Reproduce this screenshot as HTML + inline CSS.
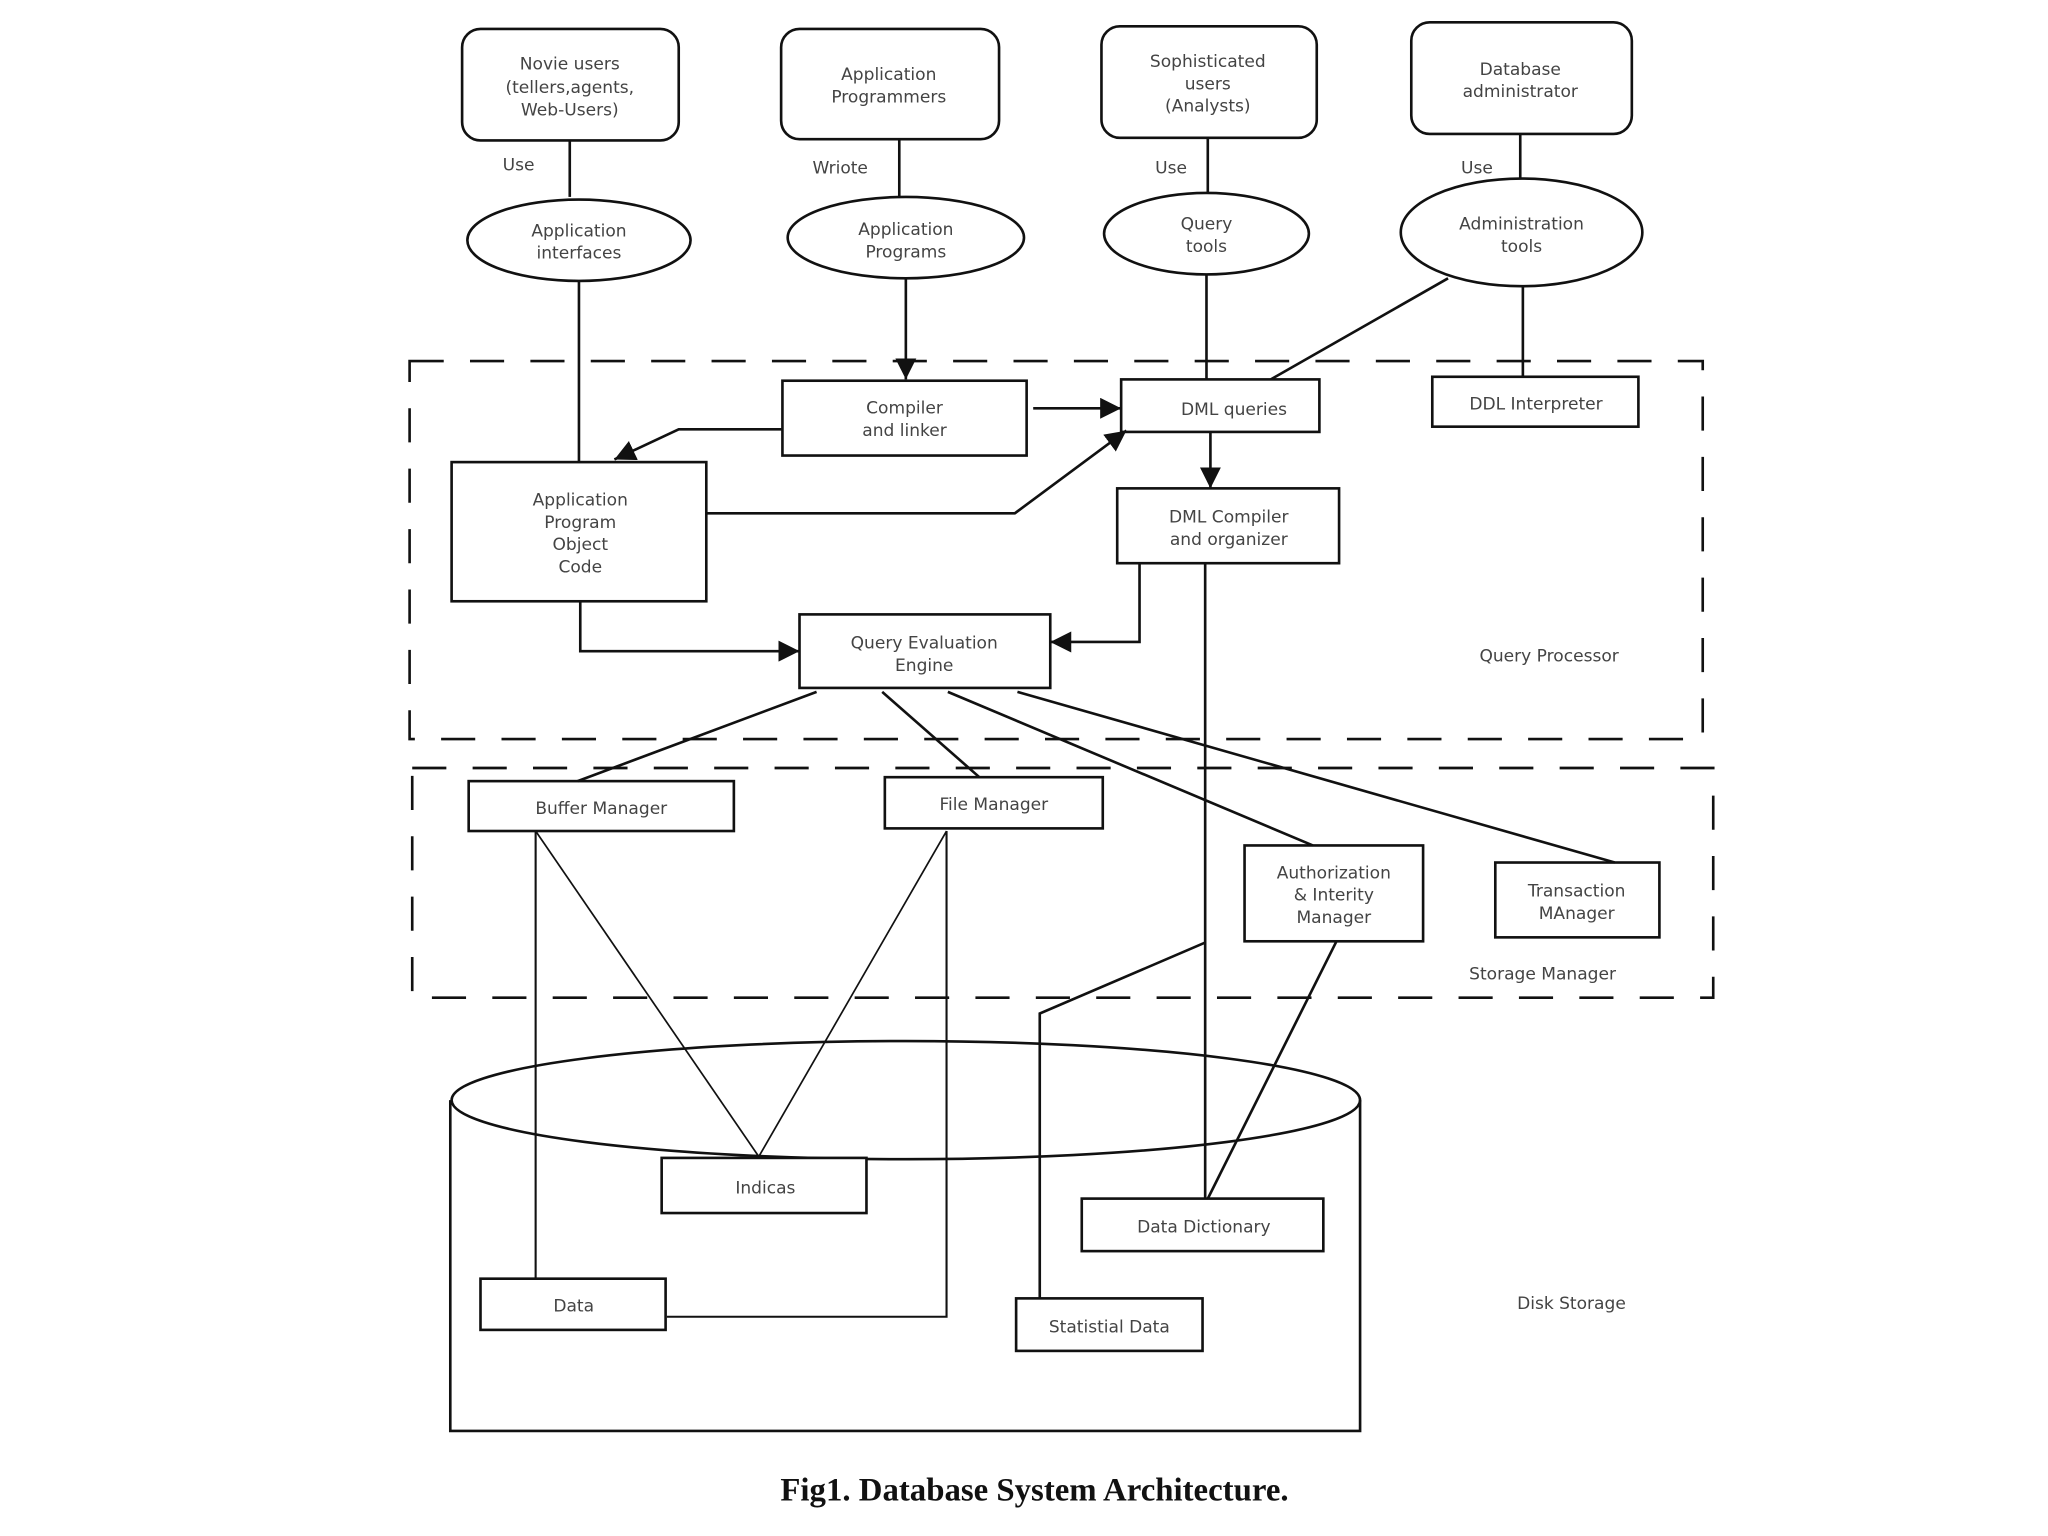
<!DOCTYPE html>
<html><head><meta charset="utf-8"><style>
html,body{margin:0;padding:0;background:#fff;}
svg{display:block;}
text{font-family:"DejaVu Sans","Liberation Sans",sans-serif;font-size:13px;fill:#444;text-anchor:middle;}
.cap{font-family:"Liberation Serif",serif;font-size:25px;font-weight:bold;fill:#111;}
</style></head><body>
<svg width="2048" height="1536" viewBox="0 0 1560 1170" preserveAspectRatio="none" xmlns="http://www.w3.org/2000/svg">
<defs>
<marker id="b" viewBox="0 0 10 10" refX="10" refY="5" markerWidth="16" markerHeight="16" orient="auto" markerUnits="userSpaceOnUse">
<path d="M0,0 L10,5 L0,10 z" fill="#111"/></marker>
</defs>
<g fill="none" stroke="#111" stroke-width="2">
<rect x="312" y="275" width="985" height="288" stroke-dasharray="26,20"/>
<rect x="314" y="585" width="991" height="175" stroke-dasharray="26,20"/>
<rect x="352" y="22" width="165" height="85" rx="14"/>
<rect x="595" y="22" width="166" height="84" rx="14"/>
<rect x="839" y="20" width="164" height="85" rx="14"/>
<rect x="1075" y="17" width="168" height="85" rx="14"/>
<line x1="434" y1="107" x2="434" y2="150"/>
<line x1="685" y1="106" x2="685" y2="150"/>
<line x1="920" y1="105" x2="920" y2="147"/>
<line x1="1158" y1="102" x2="1158" y2="136"/>
<ellipse cx="441" cy="183" rx="85" ry="31"/>
<ellipse cx="690" cy="181" rx="90" ry="31"/>
<ellipse cx="919" cy="178" rx="78" ry="31"/>
<ellipse cx="1159" cy="177" rx="92" ry="41"/>
<line x1="441" y1="214" x2="441" y2="352"/>
<line x1="690" y1="212" x2="690" y2="289" marker-end="url(#b)"/>
<line x1="919" y1="209" x2="919" y2="289"/>
<line x1="1103" y1="212" x2="968" y2="289"/>
<line x1="1160" y1="218" x2="1160" y2="287"/>
<rect x="596" y="290" width="186" height="57"/>
<rect x="854" y="289" width="151" height="40"/>
<rect x="1091" y="287" width="157" height="38"/>
<rect x="344" y="352" width="194" height="106"/>
<rect x="851" y="372" width="169" height="57"/>
<rect x="609" y="468" width="191" height="56"/>
<line x1="787" y1="311" x2="854" y2="311" marker-end="url(#b)"/>
<polyline points="596,327 517,327 468,350" marker-end="url(#b)"/>
<polyline points="538,391 773,391 858,328" marker-end="url(#b)"/>
<line x1="922" y1="329" x2="922" y2="372" marker-end="url(#b)"/>
<polyline points="868,430 868,489 800,489" marker-end="url(#b)"/>
<polyline points="442,458 442,496 609,496" marker-end="url(#b)"/>
<line x1="918" y1="430" x2="918" y2="913"/>
<line x1="622" y1="527" x2="440" y2="595"/>
<line x1="672" y1="527" x2="746" y2="592"/>
<line x1="722" y1="527" x2="1000" y2="644"/>
<line x1="775" y1="527" x2="1230" y2="657"/>
<rect x="357" y="595" width="202" height="38"/>
<rect x="674" y="592" width="166" height="39"/>
<rect x="948" y="644" width="136" height="73"/>
<rect x="1139" y="657" width="125" height="57"/>
<ellipse cx="690" cy="838" rx="346" ry="45"/>
<polyline points="343,838 343,1090 1036,1090 1036,838"/>
<line x1="408" y1="633" x2="408" y2="974" stroke-width="1.6"/>
<line x1="408" y1="633" x2="578" y2="881" stroke-width="1.3"/>
<line x1="721" y1="633" x2="578" y2="881" stroke-width="1.3"/>
<polyline points="721,633 721,1003 508,1003" stroke-width="1.6"/>
<polyline points="918,718 792,772 792,989"/>
<line x1="1018" y1="717" x2="920" y2="913"/>
<rect x="504" y="882" width="156" height="42" fill="#fff"/>
<rect x="366" y="974" width="141" height="39" fill="#fff"/>
<rect x="824" y="913" width="184" height="40" fill="#fff"/>
<rect x="774" y="989" width="142" height="40" fill="#fff"/>
</g>
<text x="434" y="53">Novie users</text>
<text x="434" y="71">(tellers,agents,</text>
<text x="434" y="88">Web-Users)</text>
<text x="677" y="61">Application</text>
<text x="677" y="78">Programmers</text>
<text x="920" y="51">Sophisticated</text>
<text x="920" y="68">users</text>
<text x="920" y="85">(Analysts)</text>
<text x="1158" y="57">Database</text>
<text x="1158" y="74">administrator</text>
<text x="395" y="130">Use</text>
<text x="640" y="132">Wriote</text>
<text x="892" y="132">Use</text>
<text x="1125" y="132">Use</text>
<text x="441" y="180">Application</text>
<text x="441" y="197">interfaces</text>
<text x="690" y="179">Application</text>
<text x="690" y="196">Programs</text>
<text x="919" y="175">Query</text>
<text x="919" y="192">tools</text>
<text x="1159" y="175">Administration</text>
<text x="1159" y="192">tools</text>
<text x="689" y="315">Compiler</text>
<text x="689" y="332">and linker</text>
<text x="940" y="316">DML queries</text>
<text x="1170" y="312">DDL Interpreter</text>
<text x="442" y="385">Application</text>
<text x="442" y="402">Program</text>
<text x="442" y="419">Object</text>
<text x="442" y="436">Code</text>
<text x="936" y="398">DML Compiler</text>
<text x="936" y="415">and organizer</text>
<text x="704" y="494">Query Evaluation</text>
<text x="704" y="511">Engine</text>
<text x="1180" y="504">Query Processor</text>
<text x="458" y="620">Buffer Manager</text>
<text x="757" y="617">File Manager</text>
<text x="1016" y="669">Authorization</text>
<text x="1016" y="686">&amp; Interity</text>
<text x="1016" y="703">Manager</text>
<text x="1201" y="683">Transaction</text>
<text x="1201" y="700">MAnager</text>
<text x="1175" y="746">Storage Manager</text>
<text x="583" y="909">Indicas</text>
<text x="437" y="999">Data</text>
<text x="917" y="939">Data Dictionary</text>
<text x="845" y="1015">Statistial Data</text>
<text x="1197" y="997">Disk Storage</text>
<text class="cap" x="788" y="1143">Fig1. Database System Architecture.</text>
</svg>
</body></html>
